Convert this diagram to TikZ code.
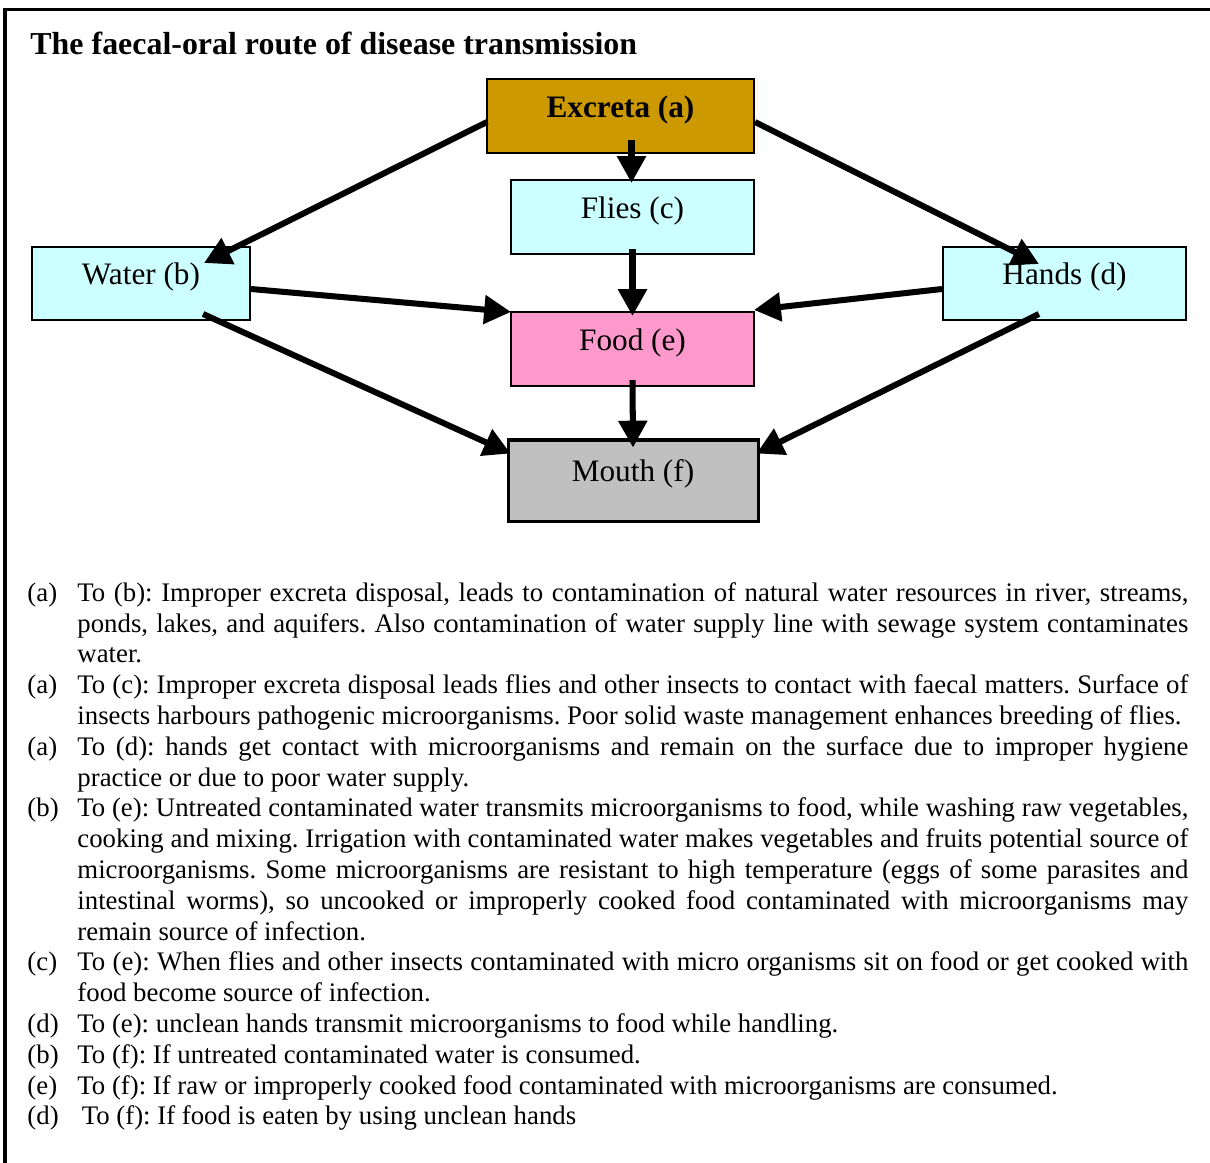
\documentclass[tikz,border=0pt]{standalone}
\usepackage{fontspec}
\setmainfont{Liberation Serif}
\usepackage{xcolor}
\usetikzlibrary{arrows.meta,calc}

\definecolor{excretabrown}{HTML}{CC9900}
\definecolor{paleblue}{HTML}{CCFFFF}
\definecolor{foodpink}{HTML}{FF99CC}
\definecolor{mouthgray}{HTML}{C0C0C0}

\newcommand{\routenote}[2]{\par\noindent\hangindent=22.4pt\hangafter=1\makebox[22.4pt][l]{#1}#2}

\tikzset{
	box/.style={draw, line width=0.9pt, inner sep=0pt, text height=10pt, text depth=9pt,
		font=\fontsize{14}{16}\selectfont},
	route/.style={line width=2.7pt, -{Triangle[length=12pt,width=12.5pt]}},
}

\begin{document}
\begin{tikzpicture}[x=0.448pt,y=-0.448pt]
	\useasboundingbox (0,0) rectangle (1210,1162);
	\draw[line width=1.35pt] (5,1175) |- (1225,9.5);

	\node[anchor=base west, inner sep=0pt, font=\bfseries\fontsize{14.3}{16}\selectfont] (title) at (30,54)
		{The faecal-oral route of disease transmission};

	% boxes
	\node[box, fill=excretabrown, minimum width=119.6pt, minimum height=33.2pt, font=\bfseries\fontsize{14}{16}\selectfont] (excreta) at (620.5,116) {Excreta (a)};
	\node[box, fill=paleblue, minimum width=108.9pt, minimum height=33.2pt] (flies) at (632.5,217) {Flies (c)};
	\node[box, fill=paleblue, minimum width=97.7pt, minimum height=32.7pt] (water) at (141,283.5) {Water (b)};
	\node[box, fill=paleblue, minimum width=108.9pt, minimum height=32.7pt] (hands) at (1064.5,283.5) {Hands (d)};
	\node[box, fill=foodpink, minimum width=108.9pt, minimum height=33.2pt] (food) at (632.5,349) {Food (e)};
	\node[box, fill=mouthgray, line width=1.35pt, minimum width=112pt, minimum height=36.3pt] (mouth) at (633,480.5) {Mouth (f)};

	% routes
	\draw[route] ($(excreta.south)+(11,-14)$) -- ($(flies.north)+(-1,4)$);
	\draw[route] ($(excreta.west)+(1,6)$) -- ($(water.north east)+(-47,17)$);
	\draw[route] ($(excreta.east)+(0,6)$) -- ($(hands.north west)+(97,18)$);
	\draw[route] ($(flies.south)+(0,-6)$) -- ($(food.north)+(0,5)$);
	\draw[route] ($(water.east)+(0,5.5)$) -- ($(food.north west)+(1,1)$);
	\draw[route] ($(hands.west)+(0,5.5)$) -- ($(food.north east)+(-1,-1)$);
	\draw[route] ($(food.south)+(0,-7)$) -- ($(mouth.north)+(0,9)$);
	\draw[route] ($(water.south east)+(-48,-7)$) -- ($(mouth.north west)+(4,15)$);
	\draw[route] ($(hands.south west)+(97,-7)$) -- ($(mouth.north east)+(-3,15)$);

	% notes
	\node[anchor=north west, inner sep=0pt, text width=520.1pt, align=justify,
		font=\fontsize{12}{13.8}\selectfont] (notes) at (27,570) {\frenchspacing\hyphenpenalty=10000\exhyphenpenalty=10000
		\routenote{(a)}{To (b): Improper excreta disposal, leads to contamination of natural water resources in river, streams,\linebreak ponds, lakes, and aquifers. Also contamination of water supply line with sewage system contaminates\linebreak water.}
		\routenote{(a)}{To (c): Improper excreta disposal leads flies and other insects to contact with faecal matters. Surface of\linebreak insects harbours pathogenic microorganisms. Poor solid waste management enhances breeding of flies.}
		\routenote{(a)}{To (d): hands get contact with microorganisms and remain on the surface due to improper hygiene\linebreak practice or due to poor water supply.}
		\routenote{(b)}{To (e): Untreated contaminated water transmits microorganisms to food, while washing raw vegetables,\linebreak cooking and mixing. Irrigation with contaminated water makes vegetables and fruits potential source of\linebreak microorganisms. Some microorganisms are resistant to high temperature (eggs of some parasites and\linebreak intestinal worms), so uncooked or improperly cooked food contaminated with microorganisms may\linebreak remain source of infection.}
		\routenote{(c)}{To (e): When flies and other insects contaminated with micro organisms sit on food or get cooked with\linebreak food become source of infection.}
		\routenote{(d)}{To (e): unclean hands transmit microorganisms to food while handling.}
		\routenote{(b)}{To (f): If untreated contaminated water is consumed.}
		\routenote{(e)}{To (f): If raw or improperly cooked food contaminated with microorganisms are consumed.}
		\routenote{(d)}{\hspace{2pt}To (f): If food is eaten by using unclean hands}\par};
\end{tikzpicture}
\end{document}
